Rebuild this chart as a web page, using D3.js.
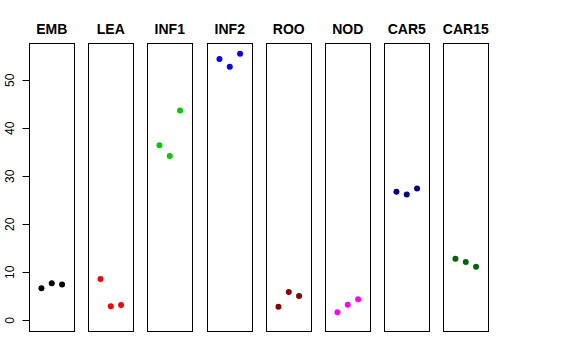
<!DOCTYPE html>
<html>
<head>
<meta charset="utf-8">
<script src="https://cdn.jsdelivr.net/npm/d3@7"></script>
<style>
  body { margin: 0; background: #fff; }
  svg { display: block; font-family: "Liberation Sans", Arial, sans-serif; }
</style>
</head>
<body>
<svg width="576" height="360"></svg>
<script>
const groups = ["EMB", "LEA", "INF1", "INF2", "ROO", "NOD", "CAR5", "CAR15"];
const colors = ["#000000", "#ff0000", "#00cd00", "#0000ff", "#8b0000", "#ff00ff", "#00008b", "#006400"];
const rep1 = [6.66, 8.59, 36.48, 54.43, 2.83, 1.66, 26.76, 12.82];
const rep2 = [7.70, 2.91, 34.25, 52.85, 5.89, 3.25, 26.20, 12.13];
const rep3 = [7.49, 3.18, 43.70, 55.55, 5.06, 4.37, 27.47, 11.15];
const yTicks = [0, 10, 20, 30, 40, 50];

let svg = d3.select("svg");

let plotTop = 43, plotBottom = 331;

// shared y scale, 0 to max with R-style 4% padding
let ymax = d3.max([rep1, rep2, rep3].flat());
let pad = ymax * 0.04;
let y = d3.scaleLinear().domain([-pad, ymax + pad]).range([plotBottom, plotTop]);

let panel = d3.scaleBand().domain(groups).range([29, 488]).paddingInner(0.248).paddingOuter(0);

// x inside each panel: replicates 1..3
let xi = d3.scaleLinear().domain([-0.16, 4.16]).range([0, panel.bandwidth()]);

let data = groups.map((g, i) => ({
    name: g,
    color: colors[i],
    values: [rep1[i], rep2[i], rep3[i]]
}));

let panels = svg.selectAll("g.panel")
    .data(data)
    .enter()
    .append("g")
    .attr("class", "panel")
    .attr("transform", d => `translate(${Math.round(panel(d.name))},0)`);

panels.append("rect")
    .attr("x", 0.5)
    .attr("y", plotTop + 0.5)
    .attr("width", Math.round(panel.bandwidth()))
    .attr("height", plotBottom - plotTop)
    .attr("fill", "none")
    .attr("stroke", "#000")
    .attr("stroke-width", 1);

panels.append("text")
    .attr("x", panel.bandwidth() / 2 + 0.5)
    .attr("y", 34)
    .attr("text-anchor", "middle")
    .attr("font-size", "14px")
    .attr("font-weight", "bold")
    .text(d => d.name);

panels.selectAll("circle")
    .data(d => d.values.map(v => ({ v: v, color: d.color })))
    .enter()
    .append("circle")
    .attr("cx", (d, i) => xi(i + 1) + 0.5)
    .attr("cy", d => y(d.v))
    .attr("r", 3)
    .attr("fill", d => d.color);

// y axis on the first panel
let axisX = Math.round(panel(groups[0])) + 0.5;
let ax = svg.append("g");
ax.append("line")
    .attr("x1", axisX).attr("x2", axisX)
    .attr("y1", y(0)).attr("y2", y(50))
    .attr("stroke", "#000");
ax.selectAll("line.tick")
    .data(yTicks)
    .enter()
    .append("line")
    .attr("class", "tick")
    .attr("x1", axisX - 7).attr("x2", axisX)
    .attr("y1", d => Math.round(y(d)) + 0.5)
    .attr("y2", d => Math.round(y(d)) + 0.5)
    .attr("stroke", "#000");
ax.selectAll("text")
    .data(yTicks)
    .enter()
    .append("text")
    .attr("transform", d => `translate(14,${y(d)}) rotate(-90)`)
    .attr("text-anchor", "middle")
    .attr("font-size", "12px")
    .text(d => d);
</script>
</body>
</html>
